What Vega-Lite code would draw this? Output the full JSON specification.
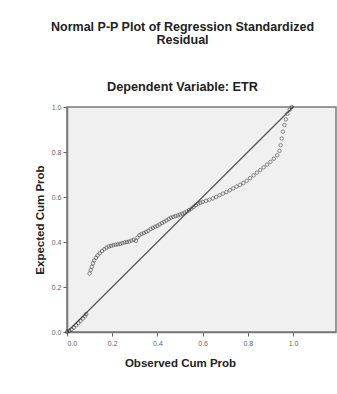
{
  "$schema": "https://vega.github.io/schema/vega-lite/v6.json",
  "autosize": "none",
  "width": 269,
  "height": 225,
  "padding": {"left": 67, "top": 107, "right": 1, "bottom": 62},
  "background": "white",
  "config": {
    "font": "Liberation Sans",
    "view": {"fill": "#f0f0f0", "stroke": "#7a7a7a", "strokeWidth": 1.5},
    "axis": {"grid": false, "labelFontSize": 7, "labelColor": "#666666", "tickColor": "#666666", "tickSize": 4, "domainColor": "#777777", "domainWidth": 1.5, "titleFontSize": 11.5, "titleFontWeight": "bold", "titleColor": "#222222"}
  },
  "title": {
    "text": ["Normal P-P Plot of Regression Standardized", "Residual"],
    "subtitle": "Dependent Variable: ETR",
    "fontSize": 12.5,
    "fontWeight": "bold",
    "color": "#222222",
    "lineHeight": 13,
    "subtitleFontSize": 12.7,
    "subtitleFontWeight": "bold",
    "subtitleColor": "#222222",
    "subtitlePadding": 35,
    "anchor": "middle",
    "frame": "group",
    "dx": -19,
    "offset": 9
  },
  "datasets": {
    "pts": [
      {"obs": 0.0, "exp": 0.0}, {"obs": 0.01, "exp": 0.005}, {"obs": 0.02, "exp": 0.012},
      {"obs": 0.03, "exp": 0.02}, {"obs": 0.04, "exp": 0.03}, {"obs": 0.05, "exp": 0.04},
      {"obs": 0.06, "exp": 0.05}, {"obs": 0.07, "exp": 0.06}, {"obs": 0.08, "exp": 0.07},
      {"obs": 0.085, "exp": 0.08},
      {"obs": 0.1, "exp": 0.26}, {"obs": 0.105, "exp": 0.275}, {"obs": 0.11, "exp": 0.29},
      {"obs": 0.115, "exp": 0.305}, {"obs": 0.12, "exp": 0.318}, {"obs": 0.128, "exp": 0.33},
      {"obs": 0.135, "exp": 0.34}, {"obs": 0.145, "exp": 0.35}, {"obs": 0.155, "exp": 0.36},
      {"obs": 0.165, "exp": 0.368}, {"obs": 0.175, "exp": 0.375}, {"obs": 0.185, "exp": 0.38},
      {"obs": 0.195, "exp": 0.383}, {"obs": 0.205, "exp": 0.386}, {"obs": 0.215, "exp": 0.388},
      {"obs": 0.225, "exp": 0.39}, {"obs": 0.235, "exp": 0.392}, {"obs": 0.245, "exp": 0.395},
      {"obs": 0.255, "exp": 0.398}, {"obs": 0.265, "exp": 0.4}, {"obs": 0.275, "exp": 0.402},
      {"obs": 0.285, "exp": 0.406}, {"obs": 0.295, "exp": 0.41}, {"obs": 0.305, "exp": 0.405},
      {"obs": 0.312, "exp": 0.42}, {"obs": 0.32, "exp": 0.43}, {"obs": 0.33, "exp": 0.436},
      {"obs": 0.34, "exp": 0.44}, {"obs": 0.35, "exp": 0.445}, {"obs": 0.36, "exp": 0.45},
      {"obs": 0.37, "exp": 0.458}, {"obs": 0.38, "exp": 0.463}, {"obs": 0.39, "exp": 0.468},
      {"obs": 0.4, "exp": 0.472}, {"obs": 0.41, "exp": 0.478}, {"obs": 0.42, "exp": 0.484},
      {"obs": 0.43, "exp": 0.49}, {"obs": 0.44, "exp": 0.496}, {"obs": 0.45, "exp": 0.502},
      {"obs": 0.46, "exp": 0.508}, {"obs": 0.47, "exp": 0.512}, {"obs": 0.48, "exp": 0.515},
      {"obs": 0.49, "exp": 0.518}, {"obs": 0.5, "exp": 0.522}, {"obs": 0.51, "exp": 0.526},
      {"obs": 0.52, "exp": 0.53}, {"obs": 0.53, "exp": 0.536}, {"obs": 0.54, "exp": 0.542},
      {"obs": 0.55, "exp": 0.548}, {"obs": 0.56, "exp": 0.556}, {"obs": 0.57, "exp": 0.564},
      {"obs": 0.58, "exp": 0.57}, {"obs": 0.59, "exp": 0.574}, {"obs": 0.6, "exp": 0.578},
      {"obs": 0.615, "exp": 0.583}, {"obs": 0.63, "exp": 0.588}, {"obs": 0.645, "exp": 0.594},
      {"obs": 0.66, "exp": 0.6}, {"obs": 0.675, "exp": 0.608}, {"obs": 0.69, "exp": 0.615},
      {"obs": 0.705, "exp": 0.622}, {"obs": 0.72, "exp": 0.63}, {"obs": 0.735, "exp": 0.638},
      {"obs": 0.75, "exp": 0.646}, {"obs": 0.765, "exp": 0.654}, {"obs": 0.78, "exp": 0.662},
      {"obs": 0.795, "exp": 0.672}, {"obs": 0.81, "exp": 0.684}, {"obs": 0.825, "exp": 0.696},
      {"obs": 0.84, "exp": 0.708}, {"obs": 0.855, "exp": 0.72}, {"obs": 0.87, "exp": 0.732},
      {"obs": 0.885, "exp": 0.744}, {"obs": 0.9, "exp": 0.756}, {"obs": 0.915, "exp": 0.77},
      {"obs": 0.93, "exp": 0.785}, {"obs": 0.94, "exp": 0.805}, {"obs": 0.945, "exp": 0.83},
      {"obs": 0.95, "exp": 0.86}, {"obs": 0.955, "exp": 0.89}, {"obs": 0.962, "exp": 0.92},
      {"obs": 0.968, "exp": 0.945}, {"obs": 0.975, "exp": 0.97}, {"obs": 0.985, "exp": 0.988},
      {"obs": 0.995, "exp": 1.0}
    ],
    "diag": [{"obs": 0, "exp": 0}, {"obs": 1, "exp": 1}]
  },
  "layer": [
    {
      "data": {"name": "diag"},
      "mark": {"type": "line", "color": "#555555", "strokeWidth": 1.2},
      "encoding": {
        "x": {"field": "obs", "type": "quantitative"},
        "y": {"field": "exp", "type": "quantitative"}
      }
    },
    {
      "data": {"name": "pts"},
      "mark": {"type": "point", "shape": "circle", "filled": false, "color": "#333333", "size": 12, "strokeWidth": 0.8},
      "encoding": {
        "x": {
          "field": "obs", "type": "quantitative",
          "scale": {"domain": [0, 1.19], "nice": false, "zero": false},
          "axis": {"title": "Observed Cum Prob", "values": [0, 0.2, 0.4, 0.6, 0.8, 1.0], "format": ".1f", "labelPadding": 3, "titlePadding": 11, "titleX": 113}
        },
        "y": {
          "field": "exp", "type": "quantitative",
          "scale": {"domain": [0, 1], "nice": false},
          "axis": {"title": "Expected Cum Prob", "values": [0, 0.2, 0.4, 0.6, 0.8, 1.0], "format": ".1f", "labelPadding": 2, "titlePadding": 6}
        }
      }
    }
  ]
}
